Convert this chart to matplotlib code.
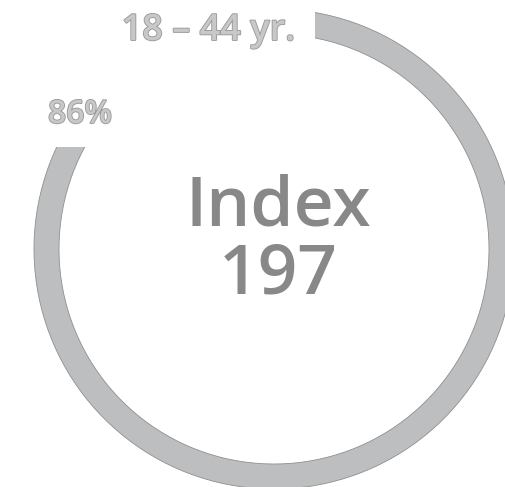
import matplotlib.pyplot as plt
from matplotlib.patches import Wedge
import matplotlib.patheffects as pe

# dados do gráfico
faixa_etaria = '18 – 44 yr.'
percentual = 0.86
indice = 197

cor_anel = '#bdbebf'
cor_texto_claro = '#c8c8c8'
cor_contorno = '#9a9a9a'
cor_indice = '#888888'
fonte = 'Open Sans'

fig = plt.figure(figsize=(5.05, 4.87), dpi=100)
ax = fig.add_axes([0, 0, 1, 1])
ax.set_xlim(0, 505)
ax.set_ylim(0, 487)
ax.set_aspect('equal')
ax.axis('off')

# anel: começa no topo e segue no sentido horário
centro = (274, 238)
raio = 240
anel = Wedge(centro, raio, 90 - 360 * percentual, 90, width=25,
             facecolor=cor_anel, edgecolor='#8f8f8f', linewidth=0.6, zorder=1)
ax.add_patch(anel)

contorno = [pe.Stroke(linewidth=1.3, foreground=cor_contorno), pe.Normal()]

ax.text(295, 447, faixa_etaria, ha='right', va='baseline', fontsize=26,
        family=fonte, fontweight='semibold', color=cor_texto_claro, path_effects=contorno,
        bbox=dict(boxstyle='square,pad=0.55', facecolor='white', edgecolor='none'), zorder=3)

ax.text(48, 364, f'{round(percentual * 100)}%', ha='left', va='baseline', fontsize=23,
        family=fonte, fontweight='semibold', color=cor_texto_claro, path_effects=contorno,
        bbox=dict(boxstyle='square,pad=0.5', facecolor='white', edgecolor='none'), zorder=3)

ax.text(278, 262, 'Index', ha='center', va='baseline', fontsize=50,
        family=fonte, fontweight='semibold', color=cor_indice, zorder=4)
ax.text(278, 194, str(indice), ha='center', va='baseline', fontsize=50,
        family=fonte, fontweight='semibold', color=cor_indice, zorder=4)

fig.savefig('out.png', dpi=100, facecolor='white')
